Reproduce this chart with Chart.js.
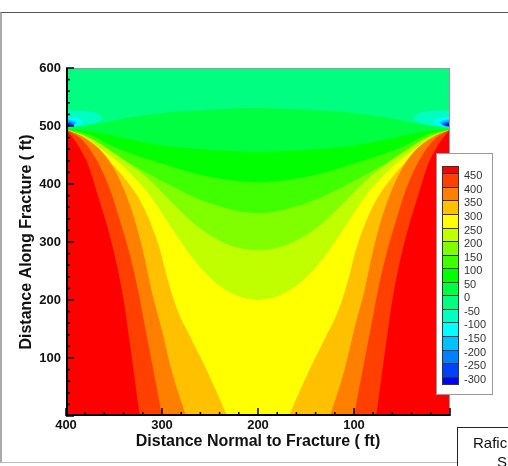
<!DOCTYPE html>
<html>
<head>
<meta charset="utf-8">
<script src="https://cdn.jsdelivr.net/npm/chart.js@4.4.1/dist/chart.umd.min.js"></script>
<style>
html,body{margin:0;padding:0;background:#fff;}
body{width:508px;height:466px;position:relative;overflow:hidden;font-family:'Liberation Sans',Arial,sans-serif;}
#frame{position:absolute;left:0;top:12px;width:530px;height:451px;border-top:1px solid #555;border-left:2px solid #aaa;border-bottom:1px solid #bbb;box-sizing:border-box;}
#c{position:absolute;left:0;top:0;}
#cbar{position:absolute;left:436px;top:153px;width:57px;height:242px;border:1px solid #999;box-sizing:border-box;background:#fff;}
.sw{position:absolute;left:442px;width:17px;box-sizing:border-box;border:1px solid #333;}
.lab{position:absolute;left:464px;font-size:11px;line-height:14px;color:#333;white-space:nowrap;}
#note{position:absolute;left:457px;top:427px;width:80px;height:60px;border:1px solid #222;background:#fff;box-sizing:border-box;font-size:15px;color:#111;}
#note span{position:absolute;white-space:nowrap;}
</style>
</head>
<body>
<div id="frame"></div>
<canvas id="c" width="508" height="466"></canvas>
<div id="cbar"></div>
<div id="note"><span style="left:15px;top:6px;">Rafic</span><span style="left:39px;top:25px;">S</span></div>
<script>
// ---------- data ----------
const xTitle = 'Distance Normal to Fracture ( ft)';
const yTitle = 'Distance Along Fracture ( ft)';
const xTickValues = [400, 300, 200, 100];
const yTickValues = [100, 200, 300, 400, 500, 600];
const minorStep = 20;

// contour levels shown in the colour bar (top to bottom)
const levels = [450, 400, 350, 300, 250, 200, 150, 100, 50, 0, -50, -100, -150, -200, -250, -300];
// band colours: [>450, 400-450, ..., -300..-250, < -300]
const bandColors = ['#ff0000','#ff4000','#ff8000','#ffc000','#ffff00','#c0ff00','#80ff00','#40ff00',
                    '#00ff00','#00ff40','#00ff80','#00ffc0','#00ffff','#00c0ff','#0080ff','#0040ff','#0000ff'];

// contour lines [x, y] (ft); region below each line has values >= level
const c0   = [[400,496],[385,499],[362,505],[337,514],[302,522],[250,528],[200,531],[150,528],[98,522],[63,514],[38,505],[15,499],[0,496]];
const c50  = [[400,494],[375,491],[354,484],[302,467],[250,459],[200,455],[150,459],[98,467],[46,484],[25,491],[0,494]];
const c100 = [[400,494],[375,485],[354,467],[302,436],[250,412],[200,403],[150,412],[98,436],[46,467],[25,485],[0,494]];
const c150 = [[400,494],[375,479],[354,455],[302,407],[250,367],[200,350],[150,367],[98,407],[46,455],[25,479],[0,494]];
const c200 = [[400,494],[380,483],[359.5,464],[339,441],[313,407],[287,364],[261,324],[230,295],[200,286],[170,295],[139,324],[113,364],[87,407],[61,441],[40.5,464],[20,483],[0,494]];
const c250 = [[400,494],[380,479],[359.5,455],[339,428],[313,381],[287,317],[268,272],[245,231],[224,209],[200,200],[176,209],[155,231],[132,272],[113,317],[87,381],[61,428],[40.5,455],[20,479],[0,494]];
const c300 = [[400,494],[380,476],[359.5,447],[339,410],[323,372],[311,329],[302,286],[294,235],[284,183],[269,131],[256,88],[244,45],[232,0],[226,-20],[174,-20],[168,0],[156,45],[144,88],[131,131],[116,183],[106,235],[98,286],[89,329],[77,372],[61,410],[40.5,447],[20,476],[0,494]];
const c350 = [[400,494],[380,479],[359.5,450],[344,407],[330,347],[320,286],[311,217],[300,148],[290,79],[275,0],[271,-20],[129,-20],[125,0],[110,79],[100,148],[89,217],[80,286],[70,347],[56,407],[40.5,450],[20,479],[0,494]];
const c400 = [[400,494],[383,476],[368,441],[354,390],[344,338],[333.5,278],[325,217],[317,148],[309,79],[300,0],[298,-20],[102,-20],[100,0],[91,79],[83,148],[75,217],[66.5,278],[56,338],[46,390],[32,441],[17,476],[0,494]];
const c450 = [[400,494],[387.5,467],[377,433],[367,381],[356,321],[347,260],[340,200],[332.5,114],[323,0],[321,-20],[79,-20],[77,0],[67.5,114],[60,200],[53,260],[44,321],[33,381],[23,433],[12.5,467],[0,494]];
const curveLevels = [0, 50, 100, 150, 200, 250, 300, 350, 400, 450];
const curves = [c0, c50, c100, c150, c200, c250, c300, c350, c400, c450];

// closed negative contours around the two fracture tips (inside: values < level)
const lobeLevels = [-50, -100, -150, -200, -250, -300];
const lobesLeft = [
  [[400,497],[400,524],[390,526],[377,525],[367,521],[362,514],[367,507],[377,502],[390,499],[400,497]],
  [[400,498],[400,514],[393,515],[386,512],[383,507],[387,502],[394,499],[400,498]],
  [[400,498],[400,510],[394,510],[389,506],[392,502],[396,499],[400,498]],
  [[400,499],[400,507],[395,507],[391,503],[395,500],[400,499]],
  [[400,499],[400,505],[396,505],[393,502],[396,500],[400,499]],
  [[400,500],[400,503],[397,503],[396,501],[400,500]]
];
const lobesRight = [
  [[0,497],[0,524],[10,526],[23,525],[33,521],[38,514],[33,507],[23,502],[10,499],[0,497]],
  [[0,498],[0,514],[7,515],[14,512],[17,507],[13,502],[6,499],[0,498]],
  [[0,498],[0,510],[6,510],[11,506],[8,502],[4,499],[0,498]],
  [[0,499],[0,507],[5,507],[9,503],[5,500],[0,499]],
  [[0,499],[0,505],[4,505],[7,502],[4,500],[0,499]],
  [[0,500],[0,503],[3,503],[4,501],[0,500]]
];

// ---------- chart ----------
const FONT = "'Liberation Sans', Arial, sans-serif";
const toXY = a => a.map(p => ({x: p[0], y: p[1]}));
const datasets = [];
curves.forEach((pts, i) => {
  datasets.push({
    data: toXY(pts), fill: 'start',
    backgroundColor: bandColors[levels.indexOf(curveLevels[i])],
    borderWidth: 0, borderColor: 'transparent', pointRadius: 0,
    cubicInterpolationMode: 'monotone'
  });
});
lobeLevels.forEach((L, i) => {
  [lobesLeft[i], lobesRight[i]].forEach(pts => {
    datasets.push({
      data: toXY(pts), fill: 'shape',
      backgroundColor: bandColors[levels.indexOf(L) + 1],
      borderWidth: 0, borderColor: 'transparent', pointRadius: 0,
      tension: 0.4
    });
  });
});
datasets.forEach((d, i) => { d.order = datasets.length - i; });

const plotDecor = {
  id: 'plotDecor',
  beforeDatasetsDraw(chart) {
    const {ctx, chartArea: a} = chart;
    ctx.save();
    ctx.fillStyle = bandColors[levels.indexOf(-50)]; // band -50..0
    ctx.fillRect(a.left, a.top, a.right - a.left, a.bottom - a.top);
    ctx.restore();
  },
  afterDatasetsDraw(chart) {
    const {ctx, chartArea: a, scales: {x, y}} = chart;
    ctx.save();
    ctx.strokeStyle = '#999';
    ctx.lineWidth = 1;
    ctx.beginPath();
    ctx.moveTo(a.left, a.top + 0.5); ctx.lineTo(a.right - 0.5, a.top + 0.5); ctx.lineTo(a.right - 0.5, a.bottom);
    ctx.stroke();
    ctx.strokeStyle = '#000';
    ctx.lineWidth = 1.5;
    for (let v = x.min; v <= x.max; v += minorStep) {
      const p = x.getPixelForValue(v);
      const len = v % 100 === 0 ? 8 : 4;
      ctx.beginPath(); ctx.moveTo(p, a.bottom); ctx.lineTo(p, a.bottom - len); ctx.stroke();
    }
    for (let v = y.min; v <= y.max; v += minorStep) {
      const p = y.getPixelForValue(v);
      const len = v % 100 === 0 ? 8 : 4;
      ctx.beginPath(); ctx.moveTo(a.left, p); ctx.lineTo(a.left + len, p); ctx.stroke();
    }
    ctx.lineWidth = 2;
    ctx.beginPath();
    ctx.moveTo(a.left + 1, a.top); ctx.lineTo(a.left + 1, a.bottom - 1); ctx.lineTo(a.right, a.bottom - 1);
    ctx.stroke();
    ctx.restore();
  }
};

new Chart(document.getElementById('c'), {
  type: 'line',
  data: { datasets },
  options: {
    responsive: false, devicePixelRatio: 1, animation: false, events: [],
    layout: { padding: { left: 0, right: 58, top: 68, bottom: 0 } },
    plugins: { legend: { display: false }, tooltip: { enabled: false } },
    scales: {
      x: {
        type: 'linear', min: 0, max: 400, reverse: true,
        grid: { display: false, drawTicks: false }, border: { display: false },
        ticks: { autoSkip: false, maxRotation: 0, padding: 2, color: '#111', font: { family: FONT, size: 13, weight: 'bold' } },
        afterBuildTicks: s => { s.ticks = xTickValues.map(v => ({ value: v })); },
        afterFit: s => { s.height = 50; },
        title: { display: true, text: xTitle, color: '#111', font: { family: FONT, size: 16, weight: 'bold' }, padding: { top: 0, bottom: 15 } }
      },
      y: {
        type: 'linear', min: 0, max: 600,
        grid: { display: false, drawTicks: false }, border: { display: false },
        ticks: { autoSkip: false, padding: 5, color: '#111', font: { family: FONT, size: 13, weight: 'bold' } },
        afterBuildTicks: s => { s.ticks = yTickValues.map(v => ({ value: v })); },
        afterFit: s => { s.width = 66; },
        title: { display: true, text: yTitle, color: '#111', font: { family: FONT, size: 16, weight: 'bold' }, padding: { top: 17, bottom: 0 } }
      }
    }
  },
  plugins: [plotDecor]
});

// ---------- colour bar legend ----------
(function () {
  const barTop = 166, barBottom = 384, firstB = 173.3, lastB = 376.7;
  const n = levels.length;
  const step = (lastB - firstB) / (n - 1);
  const bounds = [barTop];
  for (let i = 0; i < n; i++) bounds.push(firstB + i * step);
  bounds.push(barBottom);
  for (let k = 0; k < bandColors.length; k++) {
    const d = document.createElement('div');
    d.className = 'sw';
    const t = Math.round(bounds[k]), b = Math.round(bounds[k + 1]);
    d.style.top = t + 'px';
    d.style.height = (b - t + 1) + 'px';
    d.style.background = bandColors[k];
    document.body.appendChild(d);
  }
  levels.forEach((L, i) => {
    const s = document.createElement('div');
    s.className = 'lab';
    s.textContent = String(L);
    s.style.top = (firstB + i * step - 5) + 'px';
    document.body.appendChild(s);
  });
})();
</script>
</body>
</html>
